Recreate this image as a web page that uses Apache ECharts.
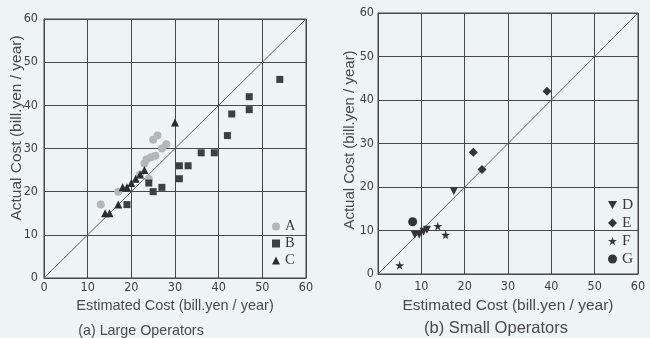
<!DOCTYPE html>
<html>
<head>
<meta charset="utf-8">
<script src="https://cdn.jsdelivr.net/npm/echarts@6/dist/echarts.min.js"></script>
<style>
  html, body { margin: 0; padding: 0; background: #eef3f6; }
  #chart { width: 650px; height: 338px; }
</style>
</head>
<body>
<div id="chart"></div>
<script>
// shared axis ticks (both panels 0..60 step 10)
const axisTicks = [0, 10, 20, 30, 40, 50, 60];
const identityLine = [[0, 0], [60, 60]];

// (a) Large Operators  [estimated, actual]
const seriesA = [[13, 17], [17, 20], [22, 24], [23, 26.5], [23.5, 27.5], [24.5, 28], [25.5, 28.3],
                 [24, 23], [25, 32], [26, 33], [27, 30], [28, 31]];
const seriesB = [[19, 17], [24, 22], [25, 20], [27, 21], [31, 26], [33, 26], [31, 23], [36, 29],
                 [39, 29], [42, 33], [43, 38], [47, 39], [47, 42], [54, 46]];
const seriesC = [[14, 15], [15, 15], [17, 17], [18, 21], [19, 21], [20, 22], [21, 23], [22, 24],
                 [23, 25], [30, 36]];

// (b) Small Operators
const seriesD = [[8.5, 9], [9.5, 9], [10.5, 9.7], [11.3, 10.2], [17.5, 19]];
const seriesE = [[39, 42], [22, 28], [24, 24]];
const seriesF = [[5, 2], [13.8, 11], [15.6, 9]];
const seriesG = [[8, 12]];

const legendLeft = ['A', 'B', 'C'];
const legendRight = ['D', 'E', 'F', 'G'];

const gridColor = '#464849';
const textColor = '#4a4a4a';
const sansFont = '"Liberation Sans", Arial, sans-serif';
const tickFont = '"DejaVu Sans Condensed", "DejaVu Sans", sans-serif';
const serifFont = '"Liberation Serif", "Times New Roman", serif';

const starPath = 'path://M50,0 L61,35 L98,35 L68,57 L79,91 L50,70 L21,91 L32,57 L2,35 L39,35 Z';
const downTri = 'path://M0,0 L10,0 L5,9 Z';

function makeAxis(gridIndex, isX, margin, nameSize, nameGap) {
    return {
        type: 'value',
        gridIndex: gridIndex,
        min: axisTicks[0],
        max: axisTicks[axisTicks.length - 1],
        interval: axisTicks[1] - axisTicks[0],
        name: isX ? 'Estimated Cost (bill.yen / year)' : '',
        nameLocation: 'middle',
        nameGap: nameGap,
        nameTextStyle: { fontFamily: sansFont, fontSize: nameSize, color: textColor },
        axisLine: { show: true, lineStyle: { color: gridColor, width: 1 } },
        axisTick: { show: false },
        axisLabel: { margin: margin, fontFamily: tickFont, fontSize: 12.5, color: '#3f4040' },
        splitLine: { show: true, lineStyle: { color: gridColor, width: 1 } }
    };
}

function scatter(name, data, xi, symbol, size, color) {
    return {
        name: name,
        type: 'scatter',
        xAxisIndex: xi,
        yAxisIndex: xi,
        data: data,
        symbol: symbol,
        symbolSize: size,
        itemStyle: { color: color, opacity: 1 },
        z: 5
    };
}

function diagonal(xi) {
    return {
        type: 'line',
        xAxisIndex: xi,
        yAxisIndex: xi,
        data: identityLine,
        symbol: 'none',
        silent: true,
        lineStyle: { color: '#5e6264', width: 1 },
        z: 3
    };
}

const chart = echarts.init(document.getElementById('chart'));
chart.setOption({
    backgroundColor: '#eef3f6',
    animation: false,
    grid: [
        { left: 44, top: 19, width: 262, height: 259, show: true, borderColor: gridColor, borderWidth: 1, backgroundColor: 'transparent' },
        { left: 378, top: 13, width: 260, height: 261, show: true, borderColor: gridColor, borderWidth: 1, backgroundColor: 'transparent' }
    ],
    xAxis: [makeAxis(0, true, 3, 14.5, 20), makeAxis(1, true, 6, 15.5, 22)],
    yAxis: [makeAxis(0, false, 6, 13, 20), makeAxis(1, false, 4, 13, 20)],
    legend: [
        {
            data: legendLeft,
            orient: 'vertical',
            left: 267, top: 214,
            itemWidth: 8, itemHeight: 8, itemGap: 2,
            textStyle: { fontFamily: serifFont, fontSize: 14.5, color: '#3a3a3a' }
        },
        {
            data: legendRight,
            orient: 'vertical',
            left: 603, top: 192,
            itemWidth: 9, itemHeight: 9, itemGap: 2,
            textStyle: { fontFamily: serifFont, fontSize: 15.5, color: '#3a3a3a' }
        }
    ],
    graphic: [
        { type: 'text', x: 17, y: 128, rotation: Math.PI / 2,
          style: { text: 'Actual Cost (bill.yen / year)', align: 'center', verticalAlign: 'middle',
                   font: '15.5px ' + sansFont, fill: textColor } },
        { type: 'text', x: 350, y: 140, rotation: Math.PI / 2,
          style: { text: 'Actual Cost (bill.yen / year)', align: 'center', verticalAlign: 'middle',
                   font: '15px ' + sansFont, fill: textColor } },
        { type: 'text', x: 141, y: 331,
          style: { text: '(a) Large Operators', align: 'center', verticalAlign: 'middle',
                   font: '14.3px ' + sansFont, fill: textColor } },
        { type: 'text', x: 496, y: 328,
          style: { text: '(b) Small Operators', align: 'center', verticalAlign: 'middle',
                   font: '16.5px ' + sansFont, fill: textColor } }
    ],
    series: [
        diagonal(0),
        diagonal(1),
        scatter('A', seriesA, 0, 'circle', 8, '#b4b6b7'),
        scatter('B', seriesB, 0, 'rect', 7, '#3a4143'),
        scatter('C', seriesC, 0, 'triangle', 8, '#2a2c2d'),
        scatter('D', seriesD, 1, downTri, 8, '#333536'),
        scatter('E', seriesE, 1, 'diamond', 9, '#333536'),
        scatter('F', seriesF, 1, starPath, 9, '#333536'),
        scatter('G', seriesG, 1, 'circle', 9, '#333536')
    ]
});
</script>
</body>
</html>
